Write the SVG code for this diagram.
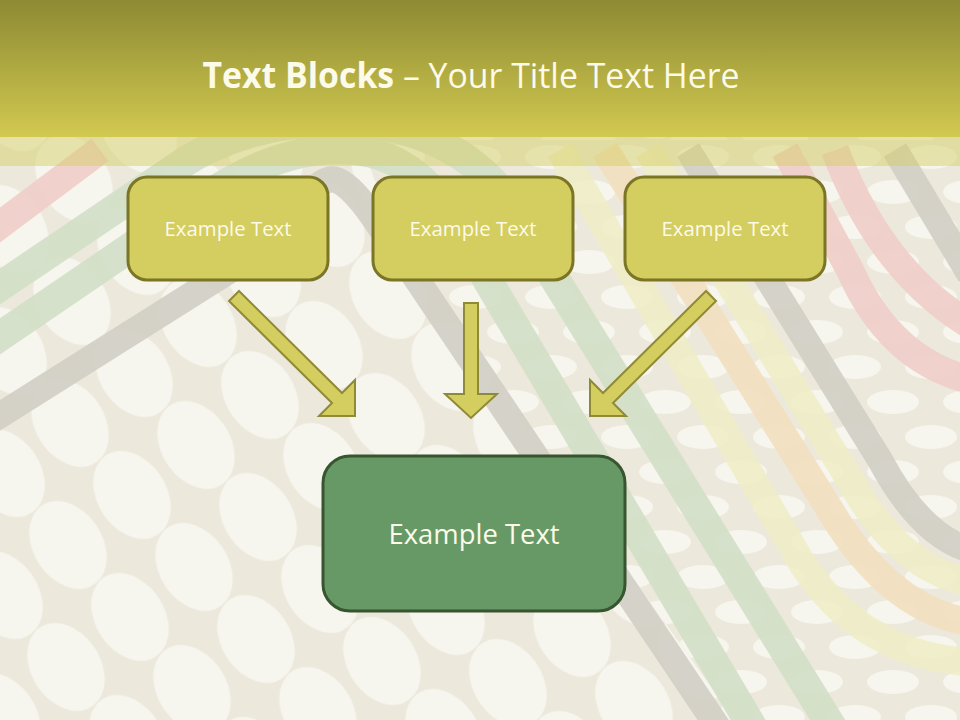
<svg xmlns="http://www.w3.org/2000/svg" width="960" height="720" viewBox="0 0 960 720">
  <defs>
    <linearGradient id="hdr" x1="0" y1="0" x2="0" y2="1">
      <stop offset="0" stop-color="#8d8a33"/>
      <stop offset="1" stop-color="#d2c950"/>
    </linearGradient>
    <pattern id="dotsA" patternUnits="userSpaceOnUse" width="126" height="122" patternTransform="matrix(1,0.1746,-0.0164,1,260,395)">
      <g fill="#f6f5ee">
        <ellipse cx="63" cy="61" rx="37" ry="44" transform="rotate(-30 63 61)"/>
        <ellipse cx="0" cy="0" rx="37" ry="44" transform="rotate(-30 0 0)"/>
        <ellipse cx="126" cy="0" rx="37" ry="44" transform="rotate(-30 126 0)"/>
        <ellipse cx="0" cy="122" rx="37" ry="44" transform="rotate(-30 0 122)"/>
        <ellipse cx="126" cy="122" rx="37" ry="44" transform="rotate(-30 126 122)"/>
      </g>
    </pattern>
    <pattern id="dotsB" patternUnits="userSpaceOnUse" width="76" height="70">
      <g fill="#f6f5ee">
        <ellipse cx="19" cy="17" rx="26" ry="12"/>
        <ellipse cx="95" cy="17" rx="26" ry="12"/>
        <ellipse cx="57" cy="52" rx="26" ry="12"/>
        <ellipse cx="-19" cy="52" rx="26" ry="12"/>
      </g>
    </pattern>
    <style>
      .stripe { fill: none; stroke-width: 26; opacity: 0.9; }
      .gray { stroke: #d2cfc4; }
      .green { stroke: #d3dfc6; stroke-width: 30; }
      .pink { stroke: #efcdc8; stroke-width: 28; }
      .orange { stroke: #f3dfbf; stroke-width: 28; }
      .yellow { stroke: #efedc6; stroke-width: 28; }
      .box { fill: #d4cd60; stroke: #7b7526; stroke-width: 3; }
      .main { fill: #669966; stroke: #37552f; stroke-width: 3; }
      .lbl { font-family: "Open Sans", "Noto Sans", sans-serif; fill: #fcfae8; text-anchor: middle; }
      .arrow { fill: #d4cd60; stroke: #8f8a35; stroke-width: 2; stroke-linejoin: miter; }
    </style>
  </defs>

  <!-- background -->
  <g id="background">
    <rect x="0" y="0" width="960" height="720" fill="#ece9dc"/>
    <rect x="0" y="0" width="960" height="720" fill="url(#dotsA)"/>
    <polygon points="360,140 960,140 960,720 735,720 405,262" fill="#ece9dc"/>
    <polygon points="360,140 960,140 960,720 735,720 405,262" fill="url(#dotsB)"/>
    <path class="stripe pink" d="M -20,240 L 100,150"/>
    <path class="stripe green" d="M -20,350 L 200,200 C 280,145 380,120 440,200 L 760,740"/>
    <path class="stripe green" d="M -20,300 L 180,165 C 260,110 420,95 500,190 L 840,740"/>
    <path class="stripe gray" d="M -20,428 L 240,264 C 300,226 315,160 345,185 C 365,200 380,230 405,262 L 730,745"/>
    <path class="stripe yellow" d="M 560,150 L 800,560 Q 860,655 970,662"/>
    <path class="stripe orange" d="M 605,150 L 830,510 Q 890,610 970,622"/>
    <path class="stripe yellow" d="M 648,150 L 850,480 Q 900,570 970,582"/>
    <path class="stripe gray" d="M 688,150 L 880,460 Q 920,535 970,550"/>
    <path class="stripe pink" d="M 785,150 L 850,270 Q 890,360 970,380"/>
    <path class="stripe pink" d="M 835,150 Q 880,270 970,325"/>
    <path class="stripe gray" d="M 895,150 L 970,275"/>
  </g>

  <!-- header -->
  <g id="header">
    <rect x="0" y="0" width="960" height="137" fill="url(#hdr)"/>
    <rect x="0" y="137" width="960" height="29" fill="#d3cc5c" opacity="0.45"/>
    <text x="471" y="88" font-family="'Open Sans', 'Noto Sans', sans-serif" font-size="35" fill="#fcfae8" text-anchor="middle" textLength="537" lengthAdjust="spacingAndGlyphs"><tspan font-weight="bold">Text Blocks</tspan> – Your Title Text Here</text>
  </g>

  <!-- connectors -->
  <g id="connectors">
    <polygon class="arrow" points="239,291 342,393 355,380 355,416 319,416 332,403 229,301"/>
    <polygon class="arrow" points="464,303 478,303 478,394 497,394 471,418 445,394 464,394"/>
    <polygon class="arrow" points="706,291 603,393 590,380 590,416 626,416 613,403 716,301"/>
  </g>

  <!-- nodes -->
  <g id="node1">
    <rect class="box" x="128" y="177" width="200" height="103" rx="19"/>
    <text class="lbl" x="228" y="236" font-size="20" textLength="127" lengthAdjust="spacingAndGlyphs">Example Text</text>
  </g>
  <g id="node2">
    <rect class="box" x="373" y="177" width="200" height="103" rx="19"/>
    <text class="lbl" x="473" y="236" font-size="20" textLength="127" lengthAdjust="spacingAndGlyphs">Example Text</text>
  </g>
  <g id="node3">
    <rect class="box" x="625" y="177" width="200" height="103" rx="19"/>
    <text class="lbl" x="725" y="236" font-size="20" textLength="127" lengthAdjust="spacingAndGlyphs">Example Text</text>
  </g>
  <g id="node4">
    <rect class="main" x="323" y="456" width="302" height="155" rx="27"/>
    <text class="lbl" x="474" y="544" font-size="27" textLength="171" lengthAdjust="spacingAndGlyphs">Example Text</text>
  </g>
</svg>
